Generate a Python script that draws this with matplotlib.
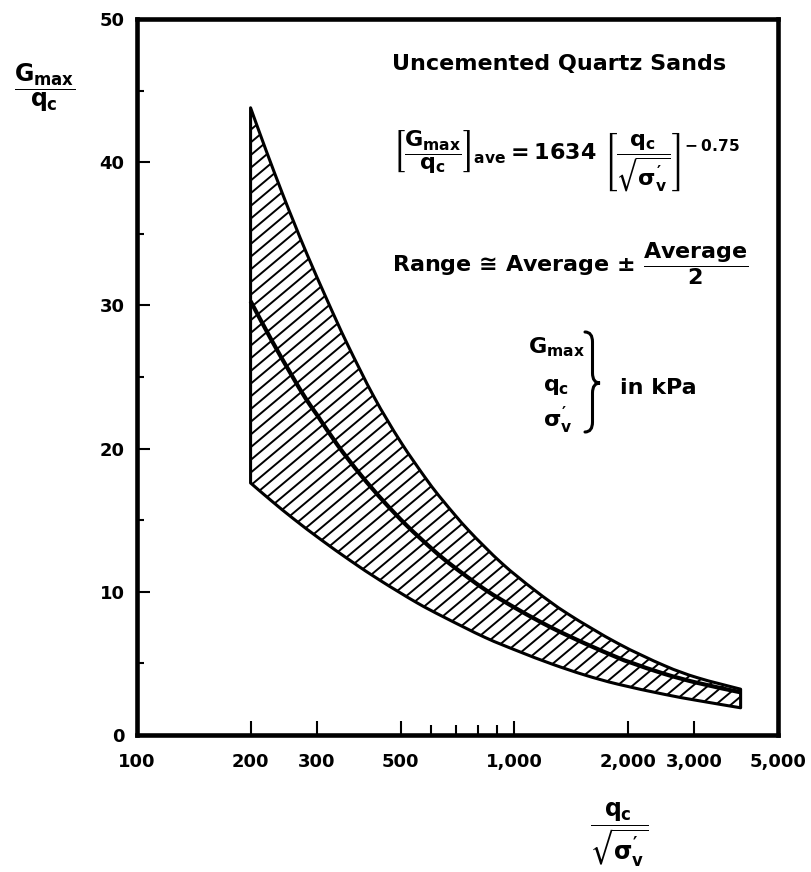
import numpy as np
import matplotlib
matplotlib.use('Agg')
import matplotlib.pyplot as plt
from matplotlib.path import Path
from matplotlib.patches import PathPatch
from matplotlib.collections import LineCollection
from matplotlib.transforms import IdentityTransform
from matplotlib.ticker import NullFormatter

plt.rcParams['font.family'] = ['DejaVu Sans']
plt.rcParams['font.weight'] = 'bold'
plt.rcParams['mathtext.fontset'] = 'custom'
plt.rcParams['mathtext.rm'] = 'DejaVu Sans:bold'
plt.rcParams['mathtext.it'] = 'DejaVu Sans:bold'
plt.rcParams['mathtext.bf'] = 'DejaVu Sans:bold'
plt.rcParams['mathtext.sf'] = 'DejaVu Sans:bold'
plt.rcParams['mathtext.fallback'] = 'stixsans'

# upper and lower limit of the band, qc/sqrt(sigma'v) vs Gmax/qc
upper_x = [200, 220, 243, 261, 283, 320, 361, 425, 499, 587, 650, 756,
           926, 1134, 1388, 1881, 2498, 3059, 3980]
upper_y = [43.8, 40.8, 37.8, 35.75, 33.5, 30.3, 27.3, 23.6, 20.5, 17.8, 16.3,
           14.3, 12.0, 10.1, 8.45, 6.4, 4.85, 4.0, 3.2]

lower_x = [200, 227, 261, 307, 369, 442, 550, 650, 837, 1025, 1254, 1537,
           1881, 2498, 3059, 3980]
lower_y = [17.6, 16.36, 15.06, 13.65, 12.15, 10.78, 9.26, 8.24, 6.81, 5.85,
           4.97, 4.19, 3.55, 2.84, 2.41, 1.9]

# average curve
avg_x = [200, 227, 256, 280, 301, 340, 392, 451, 520, 611, 683, 837, 1025,
         1254, 1537, 1881, 2040, 2498, 3059, 3980]
avg_y = [30.3, 27.6, 25.2, 23.5, 22.3, 20.25, 18.15, 16.3, 14.6, 12.9, 11.85,
         10.15, 8.75, 7.5, 6.4, 5.4, 5.05, 4.27, 3.64, 2.98]

x_major = [100, 200, 300, 500, 1000, 2000, 3000, 5000]
x_labels = ['100', '200', '300', '500', '1,000', '2,000', '3,000', '5,000']
x_minor = [600, 700, 800, 900]
y_major = [0, 10, 20, 30, 40, 50]
y_minor = [5, 15, 25, 35, 45]

W, H = 811, 872
fig = plt.figure(figsize=(W / 100, H / 100), dpi=100)
ax = fig.add_axes([137 / W, 1 - 735 / H, 641 / W, 716 / H])


def fpos(x, y):
    # pixel position (from top left) to figure fraction
    return x / W, 1 - y / H


def smooth(xs, ys):
    # Catmull-Rom curve through the points, built in log-x space
    P = np.column_stack([np.log10(xs), ys]).astype(float)
    n = len(P)
    verts, codes = [P[0]], [Path.MOVETO]
    for i in range(n - 1):
        p0 = P[max(i - 1, 0)]
        p1, p2 = P[i], P[i + 1]
        p3 = P[min(i + 2, n - 1)]
        verts += [p1 + (p2 - p0) / 6, p2 - (p3 - p1) / 6, p2]
        codes += [Path.CURVE4] * 3
    verts = np.array(verts)
    verts[:, 0] = 10 ** verts[:, 0]
    return verts, codes


ax.set_xscale('log')
ax.set_xlim(100, 5000)
ax.set_ylim(0, 50)

# band outline: upper limit, right end, lower limit back to the vertical at 200
uv, uc = smooth(upper_x, upper_y)
lv, lc = smooth(lower_x[::-1], lower_y[::-1])
lc[0] = Path.LINETO
band_path = Path(np.vstack([uv, lv, uv[:1]]), uc + lc + [Path.CLOSEPOLY])
band = PathPatch(band_path, facecolor='white', edgecolor='none', zorder=2)
ax.add_patch(band)

# diagonal hatching, clipped to the band
ang = np.deg2rad(40)
step = 12.7
xs0, xs1 = 100, 800
segs = []
for c in np.arange(-700, 900, step):
    segs.append([(xs0, c + xs0 * np.tan(ang)), (xs1, c + xs1 * np.tan(ang))])
hatch = LineCollection(segs, colors='black', linewidths=1.4,
                       transform=IdentityTransform(), zorder=3)
ax.add_collection(hatch, autolim=False)
hatch.set_clip_path(band)

# band edges on top of the hatching, then the average line
edge = PathPatch(band_path, fill=False, edgecolor='black', lw=2.2,
                 joinstyle='round', zorder=4)
ax.add_patch(edge)
av, ac = smooth(avg_x, avg_y)
ax.add_patch(PathPatch(Path(av, ac), fill=False, edgecolor='black', lw=3.0,
                       capstyle='butt', zorder=5))

# axes styling
for s in ax.spines.values():
    s.set_linewidth(3.3)
ax.set_xticks(x_major, x_labels)
ax.set_xticks(x_minor, minor=True)
ax.xaxis.set_minor_formatter(NullFormatter())
ax.set_yticks(y_major)
ax.set_yticks(y_minor, minor=True)
ax.tick_params(which='both', direction='in', width=1.5, labelsize=13)
ax.tick_params(axis='x', which='major', length=10, pad=13)
ax.tick_params(axis='x', which='minor', length=7)
ax.tick_params(axis='y', which='major', length=9, pad=9)
ax.tick_params(axis='y', which='minor', length=5)
for lab in ax.get_xticklabels() + ax.get_yticklabels():
    lab.set_fontweight('bold')

# axis titles as fractions
fig.text(*fpos(45, 88), r'$\dfrac{G_{max}}{q_c}$', fontsize=17,
         ha='center', va='center')
fig.text(*fpos(619, 835), r"$\dfrac{q_c}{\sqrt{\sigma^{\prime}_{v}}}$",
         fontsize=17, ha='center', va='center')

# annotations
fig.text(*fpos(392, 70), 'Uncemented Quartz Sands', fontsize=16,
         fontweight='bold', ha='left', va='baseline')
fig.text(*fpos(393, 161),
         r"${\left[\dfrac{G_{max}}{q_c}\right]}_{ave} = 1634\ "
         r"{\left[\dfrac{q_c}{\sqrt{\sigma^{\prime}_{v}}}\right]}^{-\,0.75}$",
         fontsize=16, ha='left', va='center')
fig.text(*fpos(392, 264), r'Range ≅ Average ± $\dfrac{Average}{2}$',
         fontsize=16, fontweight='bold', ha='left', va='center')

fig.text(*fpos(556, 347), r'$G_{max}$', fontsize=16, ha='center', va='center')
fig.text(*fpos(556, 387), r'$q_c$', fontsize=16, ha='center', va='center')
fig.text(*fpos(558, 420), r"$\sigma^{\prime}_{v}$", fontsize=16,
         ha='center', va='center')
fig.text(*fpos(620, 388), 'in kPa', fontsize=16, fontweight='bold',
         ha='left', va='center')

# right curly brace next to the unit list
bx0, bw = 585, 15
top, mid, bot = 332, 383, 432
c = 10
pts = [(bx0, top), (bx0 + bw / 2, top), (bx0 + bw / 2, top + c),
       (bx0 + bw / 2, mid - c), (bx0 + bw / 2, mid), (bx0 + bw, mid),
       (bx0 + bw / 2, mid), (bx0 + bw / 2, mid + c),
       (bx0 + bw / 2, bot - c), (bx0 + bw / 2, bot), (bx0, bot)]
codes = [Path.MOVETO, Path.CURVE3, Path.CURVE3, Path.LINETO, Path.CURVE3,
         Path.CURVE3, Path.CURVE3, Path.CURVE3, Path.LINETO, Path.CURVE3,
         Path.CURVE3]
brace = Path([fpos(*p) for p in pts], codes)
fig.add_artist(PathPatch(brace, transform=fig.transFigure, fill=False,
                         lw=2.2, color='black', capstyle='round'))

fig.savefig('out.png', dpi=100)
